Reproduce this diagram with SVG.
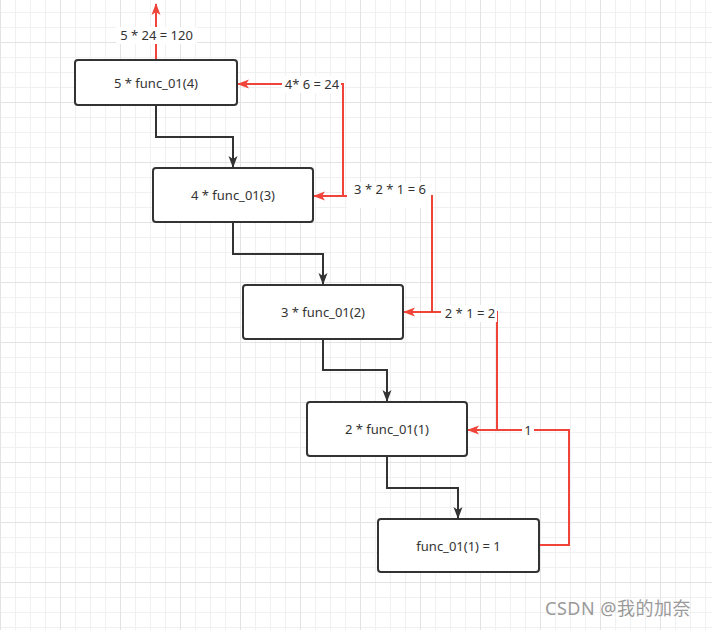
<svg xmlns="http://www.w3.org/2000/svg" width="712" height="630" viewBox="0 0 712 630">
<style>
.node rect{fill:#fff;stroke:#333;stroke-width:2}
.t{font-family:"Noto Sans","Open Sans",sans-serif;font-size:13px;fill:#333;text-anchor:middle;dominant-baseline:central}
.blk{fill:none;stroke:#333;stroke-width:2;marker-end:url(#ab)}
.red{fill:none;stroke:#f0433a;stroke-width:2}
.redA{marker-end:url(#ar)}
.lb{fill:#fff}
</style>
<defs>
<pattern id="grid" x="0" y="42" width="60" height="60" patternUnits="userSpaceOnUse">
<rect x="15" y="0" width="1" height="60" fill="#f0f0f0"/>
<rect x="30" y="0" width="1" height="60" fill="#f0f0f0"/>
<rect x="45" y="0" width="1" height="60" fill="#f0f0f0"/>
<rect x="0" y="15" width="60" height="1" fill="#f0f0f0"/>
<rect x="0" y="30" width="60" height="1" fill="#f0f0f0"/>
<rect x="0" y="45" width="60" height="1" fill="#f0f0f0"/>
<rect x="0" y="0" width="1" height="60" fill="#e3e3e3"/>
<rect x="0" y="0" width="60" height="1" fill="#e3e3e3"/>
</pattern>
<marker id="ab" viewBox="0 0 12 10" refX="11" refY="5" markerWidth="12" markerHeight="10" markerUnits="userSpaceOnUse" orient="auto">
<path d="M0,0.5 L12,5 L0,9.5 L3,5 Z" fill="#333"/>
</marker>
<marker id="ar" viewBox="0 0 12 10" refX="11" refY="5" markerWidth="12" markerHeight="10" markerUnits="userSpaceOnUse" orient="auto">
<path d="M0,0.5 L12,5 L0,9.5 L3,5 Z" fill="#f0433a"/>
</marker>
</defs>
<rect x="0" y="0" width="712" height="630" fill="#fff"/>
<rect x="0" y="0" width="712" height="630" fill="url(#grid)"/>

<g id="connectors">
<path class="blk" d="M156,106 V137 H233 V167"/>
<path class="blk" d="M233,223 V254 H323 V284"/>
<path class="blk" d="M323,340 V370 H387 V401"/>
<path class="blk" d="M387,457 V488 H458 V518"/>

<path class="red redA" d="M156,59 V4"/>
<path class="red redA" d="M343,196 V84 H238"/>
<path class="red redA" d="M432,312 V196 H314"/>
<path class="red redA" d="M497,430 V312 H404"/>
<path class="red redA" d="M540,545 H569 V430 H468"/>

<rect class="lb" x="116" y="27" width="81" height="17"/>
<text class="t" x="156.5" y="35">5 * 24 = 120</text>
<rect class="lb" x="282" y="76" width="59" height="17"/>
<text class="t" x="312" y="84">4* 6 = 24</text>
<rect class="lb" x="347" y="182" width="84" height="26"/>
<text class="t" x="390" y="189">3 * 2 * 1 = 6</text>
<rect class="lb" x="441" y="305" width="56" height="17"/>
<text class="t" x="470" y="313">2 * 1 = 2</text>
<rect class="lb" x="522" y="422" width="12" height="17"/>
<text class="t" x="528" y="430">1</text>
</g>

<g id="n1" class="node"><rect x="75" y="60" width="162" height="45" rx="3"/><text class="t" x="156" y="82.5">5 * func_01(4)</text></g>
<g id="n2" class="node"><rect x="153" y="168" width="160" height="54" rx="3"/><text class="t" x="233" y="195">4 * func_01(3)</text></g>
<g id="n3" class="node"><rect x="243" y="285" width="160" height="54" rx="3"/><text class="t" x="323" y="312">3 * func_01(2)</text></g>
<g id="n4" class="node"><rect x="307" y="402" width="160" height="54" rx="3"/><text class="t" x="387" y="429">2 * func_01(1)</text></g>
<g id="n5" class="node"><rect x="378" y="519" width="161" height="53" rx="3"/><text class="t" x="458.5" y="545.5">func_01(1) = 1</text></g>

<text x="545" y="615" font-family="'Noto Sans','Noto Sans CJK SC',sans-serif" font-size="18" letter-spacing="0.5" fill="#9a9a9a">CSDN @我的加奈</text>
</svg>
